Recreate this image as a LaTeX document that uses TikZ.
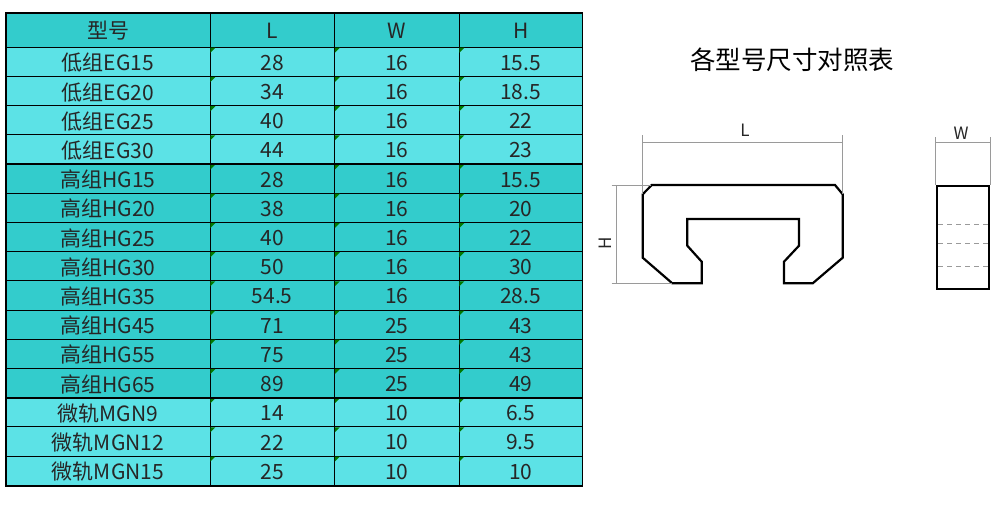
\documentclass[tikz,border=0pt]{standalone}
\usepackage{fontspec}
\setmainfont{Noto Sans CJK SC}
\definecolor{lightc}{HTML}{5CE2E6}
\definecolor{darkc}{HTML}{33CCCC}
\definecolor{txt}{HTML}{262626}
\definecolor{tri}{HTML}{007A00}
\definecolor{dim}{HTML}{9A9A9A}
\tikzset{
  cell/.style={inner sep=0pt, text=txt, font=\fontsize{21}{21}\selectfont},
  grid/.style={black, line width=0.9pt},
  sep/.style={black, line width=1.6pt},
  part/.style={black, line width=2.2pt, line join=miter},
  dimline/.style={dim, line width=0.8pt},
  hidden/.style={dim, line width=0.8pt, dash pattern=on 5pt off 4pt},
  dimlabel/.style={inner sep=0pt, text=txt, font=\fontsize{17}{17}\selectfont},
}
\begin{document}
\begin{tikzpicture}[x=1pt,y=-1pt]
\useasboundingbox (0,0) rectangle (1000,507);
\fill[white] (0,0) rectangle (1000,507);
% header
\fill[darkc] (6,13) rectangle (582.5,47.3);
\node[cell] (hm) at (108,31) {型号};
\node[cell] (hl) at (272.2,31) {L};
\node[cell] (hw) at (396.7,31) {W};
\node[cell] (hh) at (520.7,31) {H};
% row fills
\fill[lightc] (6,47.3) rectangle (582.5,164.2);
\fill[darkc] (6,164.2) rectangle (582.5,398.1);
\fill[lightc] (6,398.1) rectangle (582.5,485.7);
% rows
\foreach \m/\l/\w/\h [count=\i from 0] in {
  低组EG15/28/16/15.5, 低组EG20/34/16/18.5,
  低组EG25/40/16/22, 低组EG30/44/16/23,
  高组HG15/28/16/15.5, 高组HG20/38/16/20,
  高组HG25/40/16/22, 高组HG30/50/16/30,
  高组HG35/54.5/16/28.5, 高组HG45/71/25/43,
  高组HG55/75/25/43, 高组HG65/89/25/49,
  微轨MGN9/14/10/6.5, 微轨MGN12/22/10/9.5,
  微轨MGN15/25/10/10} {
  \pgfmathsetmacro\ya{47.3+29.2*\i}
  \pgfmathsetmacro\yc{\ya+15.6}
  \node[cell] (m\i) at (108,\yc) {\m};
  \node[cell] (l\i) at (272.2,\yc) {\l};
  \node[cell] (w\i) at (396.7,\yc) {\w};
  \node[cell] (h\i) at (520.7,\yc) {\h};
}
% grid lines
\foreach \i in {0,...,14} {
  \pgfmathsetmacro\ya{47.3+29.2*\i}
  \draw[grid] (6,\ya) -- (582.5,\ya);
}
\foreach \x in {210,334.5,459}
  \draw[grid] (\x,13) -- (\x,485.7);
% error-indicator triangles
\foreach \i in {0,...,14} {
  \pgfmathsetmacro\ya{47.3+29.2*\i}
  \foreach \x in {210.4,334.9,459.4}
    \fill[tri] (\x,\ya+0.4) -- ++(5,0) -- ++(-5,5) -- cycle;
}
\draw[sep] (6,164.1) -- (582.5,164.1);
\draw[sep] (6,398.1) -- (582.5,398.1);
\draw[sep] (6,13) rectangle (582.5,485.7);
% title
\node[inner sep=0pt, font=\fontsize{25.5}{25.5}\selectfont] (title) at (792,60) {各型号尺寸对照表};
% rail profile
\draw[part] (651.7,185) -- (835,185) -- (842.7,194.3) -- (842.7,257.7)
  -- (812.7,283.3) -- (784,283.3) -- (784,261.7) -- (799,245.7) -- (799,219)
  -- (687.3,219) -- (687.3,245.7) -- (701.7,261.7) -- (701.7,283.3)
  -- (672.3,283.3) -- (642.7,257.7) -- (642.7,194.3) -- cycle;
% L dimension
\coordinate (la) at (642.7,142);
\coordinate (lb) at (842.7,142);
\draw[dimline] (la) -- (lb);
\draw[dimline] (642.7,135) -- (642.7,194);
\draw[dimline] (842.7,135) -- (842.7,194);
\node[dimlabel] (lab) at (745,130.5) {L};
% H dimension
\coordinate (ha) at (616,185);
\coordinate (hb) at (616,283.3);
\draw[dimline] (ha) -- (hb);
\draw[dimline] (611.5,185) -- (651,185);
\draw[dimline] (611.5,283.3) -- (672,283.3);
\node[dimlabel, rotate=90] (hab) at (605,243) {H};
% end view
\draw[part] (936.7,185.7) rectangle (989,289.3);
\foreach \y in {224.3,243.3,266.7}
  \draw[hidden] (938,\y) -- (988,\y);
% W dimension
\coordinate (wa) at (935.7,142.7);
\coordinate (wb) at (990,142.7);
\draw[dimline] (wa) -- (wb);
\draw[dimline] (935.7,137) -- (935.7,185);
\draw[dimline] (990,137) -- (990,185);
\node[dimlabel] (wab) at (961,133.5) {W};
\end{tikzpicture}
\end{document}
